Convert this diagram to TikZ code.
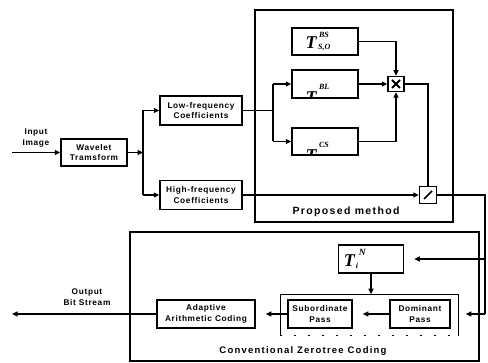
\documentclass[tikz,border=0pt]{standalone}
\usepackage{fontspec}
\setmainfont{Liberation Sans}
\newfontfamily\lab{Liberation Sans}[LetterSpace=8]
\newfontfamily\ttl{Liberation Sans}[LetterSpace=13]
\newfontfamily\sbi{Liberation Serif}
\usetikzlibrary{arrows.meta,calc}
\newcommand{\Tsym}[3]{\mbox{\sbi\bfseries\itshape\fontsize{18}{18}\selectfont T\kern1.5pt\fontsize{8}{8}\selectfont\rlap{\kern1pt\raisebox{#3}{#1}}\raisebox{-1pt}{#2}}}
\newcommand{\TiN}{\mbox{\sbi\bfseries\itshape\fontsize{18}{18}\selectfont T\kern1pt\rlap{\kern3pt\raisebox{11pt}{\fontsize{9.5}{9.5}\selectfont N}}\raisebox{-2pt}{\fontsize{8}{8}\selectfont i}\kern40pt}}
\begin{document}
\begin{tikzpicture}[x=1pt,y=-1pt,
  line width=1.6pt,
  >={Triangle[length=5.5pt,width=5pt]},
  box/.style={draw, line width=1.5pt, inner sep=0pt, align=center,
    font=\lab\bfseries\fontsize{8.3}{10.5}\selectfont},
  frame/.style={draw, line width=1.6pt, inner sep=0pt},
  title/.style={font=\ttl\bfseries\fontsize{10.5}{12}\selectfont, inner sep=0pt},
  titlec/.style={font=\ttl\bfseries\fontsize{9.5}{11}\selectfont, inner sep=0pt},
  lbl/.style={align=center, inner sep=0pt, font=\lab\bfseries\fontsize{8.3}{10.5}\selectfont}]
\useasboundingbox (0,0) rectangle (488,363);

% frames
\node[frame, minimum width=198pt, minimum height=212pt] (prop) at (354,116) {};
\node[frame, minimum width=349pt, minimum height=129pt] (conv) at (304.5,296.5) {};
\node[inner sep=0pt, minimum width=177pt, minimum height=40pt] (ib) at (369.5,315) {};
\draw[line width=0.7pt] (ib.south west) -- (ib.north west) -- (ib.north east) -- (ib.south east);
\draw[line width=0.7pt, dash pattern=on 2pt off 12pt] (ib.south west) -- (ib.south east);

\node[title] (tprop) at (346,212) {Proposed method};
\node[titlec] (tconv) at (303,351) {Conventional Zerotree Coding};

% left part
\node[box, minimum width=66pt, minimum height=27pt] (wav) at (94,152.5) {Wavelet\\Tramsform};
\node[box, minimum width=82pt, minimum height=29pt] (low) at (201,110.5) {Low-frequency\\Coefficients};
\node[box, minimum width=82pt, minimum height=29pt] (high) at (201,195) {High-frequency\\Coefficients};
\node[lbl] (tin) at (36,138) {Input\\Image};
\node[lbl] (tout) at (87,297) {Output\\Bit Stream};

% proposed method
\node[box, minimum width=66pt, minimum height=27pt] (bs) at (325,41.5) {\Tsym{BS}{S,O}{11.5pt}\hspace{14pt}};
\node[box, minimum width=66pt, minimum height=28pt,
  path picture={\node[draw=none, inner sep=0pt] at ([yshift=-11pt,xshift=-7pt]path picture bounding box.center) {\Tsym{BL}{S,O}{14pt}};}] (bl) at (325,84) {};
\node[box, minimum width=66pt, minimum height=27pt,
  path picture={\node[draw=none, inner sep=0pt] at ([yshift=-11pt,xshift=-7pt]path picture bounding box.center) {\Tsym{CS}{S,O}{14pt}};}] (cs) at (325,141.5) {};
\node[box, minimum width=16pt, minimum height=15pt] (mul) at (396,84) {};
\draw[line width=1.8pt] ($(mul.center)+(-4,-4)$) -- ($(mul.center)+(4,4)$);
\draw[line width=1.8pt] ($(mul.center)+(-4,4)$) -- ($(mul.center)+(4,-4)$);
\node[box, minimum width=17pt, minimum height=17pt] (div) at (428,195) {};
\draw[line width=1.6pt] ($(div.center)+(-4,4)$) -- ($(div.center)+(4,-4)$);

% conventional
\node[box, minimum width=65pt, minimum height=28pt] (tn) at (371,259) {\TiN};
\node[box, minimum width=64pt, minimum height=28pt] (sub) at (320,314) {Subordinate\\Pass};
\node[box, minimum width=60pt, minimum height=28pt] (dom) at (420,314) {Dominant\\Pass};
\node[box, minimum width=98pt, minimum height=28pt] (ada) at (206,314) {Adaptive\\Arithmetic Coding};

% connectors
\coordinate (in) at (12,152.5);
\coordinate (j1) at (143,152.5);
\coordinate (j1t) at (143,110.5);
\coordinate (j1b) at (143,195);
\draw[->] (in) -- (wav.west);
\draw[->] (wav.east) -- (j1);
\draw (j1t) -- (j1b);
\draw[->] (j1t) -- (low.west);
\draw[->] (j1b) -- (high.west);

\coordinate (j2) at (273,110.5);
\coordinate (j2t) at (273,84);
\coordinate (j2b) at (273,141.5);
\draw (low.east) -- (j2);
\draw (j2t) -- (j2b);
\draw[->] (j2t) -- (bl.west);
\draw[->] (j2b) -- (cs.west);
\draw[->] (bs.east) -| (mul.north);
\draw[->] (bl.east) -- (mul.west);
\draw[->] (cs.east) -| (mul.south);
\draw (mul.east) -| (div.north);
\draw[->] (high.east) -- (div.west);

\coordinate (r1) at (485,195);
\coordinate (r3) at (485,259);
\coordinate (r2) at (485,314);
\draw (div.east) -- (r1) -- (r2);
\draw[->, shorten >=15pt] (r2) -- (dom.east);
\draw[->, shorten >=10pt] (r3) -- (tn.east);
\draw[->] (tn.south) -- (tn.south |- ib.north);
\draw[->, shorten >=10pt] (dom.west) -- (sub.east);
\draw[->, shorten >=10pt] (sub.west) -- (ada.east);
\coordinate (out) at (12,314);
\draw[->] (ada.west) -- (out);
\end{tikzpicture}
\end{document}
